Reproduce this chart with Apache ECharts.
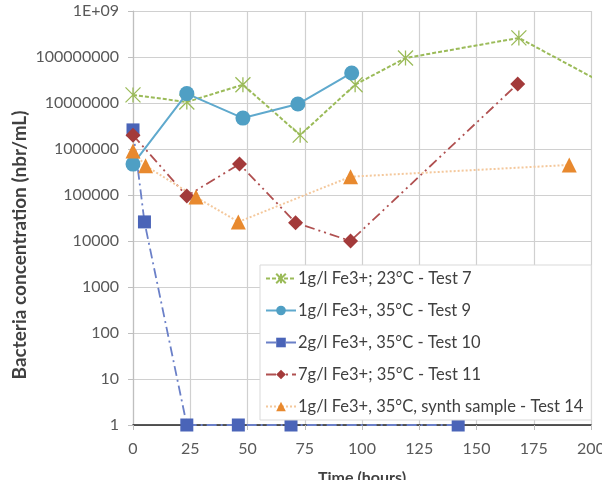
<!DOCTYPE html>
<html>
<head>
<meta charset="utf-8">
<script src="https://cdn.jsdelivr.net/npm/echarts@6/dist/echarts.min.js"></script>
<style>
  html, body { margin: 0; padding: 0; background: #fff; }
  #main { width: 602px; height: 480px; }
</style>
</head>
<body>
<div id="main"></div>
<script>
// hours / bacteria counts (nbr/mL) per test
var t7_x = [0, 23.5, 48, 73, 97, 119, 168.5, 216];
var t7_y = [15000000, 10500000, 25000000, 2000000, 25000000, 95000000, 260000000, 14000000];

var t9_x = [0, 23.5, 48, 72, 95.5];
var t9_y = [470000, 16000000, 4700000, 9500000, 45000000];

var t10_x = [0, 5, 23.5, 46, 69, 142];
var t10_y = [2600000, 26000, 1, 1, 1, 1];

var t11_x = [0, 23.5, 46.5, 71, 95, 168];
var t11_y = [2000000, 95000, 470000, 25000, 10000, 26000000];

var t14_x = [0, 5.5, 27.5, 46, 95, 190.5];
var t14_y = [900000, 430000, 90000, 26000, 250000, 450000];

var names = ['1g/l Fe3+; 23°C - Test 7', '1g/l Fe3+, 35°C - Test 9', '2g/l Fe3+, 35°C - Test 10',
             '7g/l Fe3+; 35°C - Test 11', '1g/l Fe3+, 35°C, synth sample - Test 14'];

function pairs(xs, ys) {
    var out = [];
    for (var i = 0; i < xs.length; i++) out.push([xs[i], ys[i]]);
    return out;
}

var myChart = echarts.init(document.getElementById('main'));
var font = 'Lato, "Open Sans", sans-serif';

option = {
    animation: false,
    textStyle: { fontFamily: font },
    grid: { left: 133, right: 11, top: 11, bottom: 55, containLabel: false, outerBoundsMode: 'none' },
    legend: {
        orient: 'vertical',
        left: 260,
        top: 265,
        padding: [5, 8, 5, 5],
        itemWidth: 30,
        itemHeight: 12,
        itemGap: 15,
        backgroundColor: '#fff',
        borderColor: '#d9d9d9',
        borderWidth: 1,
        textStyle: { fontFamily: font, fontSize: 16.5, color: '#404040', padding: [0, 0, 0, -3] },
        data: names
    },
    graphic: [{
        type: 'text',
        x: 20, y: 245,
        rotation: Math.PI / 2,
        style: {
            text: 'Bacteria concentration (nbr/mL)',
            font: 'bold 19px ' + font,
            fill: '#404040',
            textAlign: 'center',
            textVerticalAlign: 'middle'
        }
    }],
    xAxis: {
        type: 'value',
        min: 0, max: 200, interval: 25,
        name: 'Time (hours)',
        nameLocation: 'middle',
        nameGap: 45,
        nameTextStyle: { fontFamily: font, fontSize: 16, fontWeight: 'bold', color: '#404040' },
        axisLine: { lineStyle: { color: '#222', width: 1.5 } },
        axisTick: { show: true, length: 5, lineStyle: { color: '#bfbfbf' } },
        axisLabel: { fontFamily: font, fontSize: 16, color: '#595959', margin: 16 },
        splitLine: { lineStyle: { color: '#d0d0d0', width: 1.2 } }
    },
    yAxis: {
        type: 'log',
        logBase: 10,
        min: 1, max: 1000000000,
        interval: 1,
        axisLine: { show: true, lineStyle: { color: '#bfbfbf', width: 1.2 } },
        axisTick: { show: true, length: 5, lineStyle: { color: '#bfbfbf' } },
        axisLabel: {
            fontFamily: font, fontSize: 16, color: '#595959', margin: 14,
            formatter: function (v) {
                var r = Math.round(v);
                return r >= 1000000000 ? '1E+09' : String(r);
            }
        },
        splitLine: { lineStyle: { color: '#d0d0d0', width: 1.2 } }
    },
    series: [{
        name: names[0],
        type: 'line',
        data: pairs(t7_x, t7_y),
        symbol: 'path://M0,0L10,10M10,0L0,10M5,0L5,10',
        symbolSize: 15,
        itemStyle: { color: '#9bbb59', borderColor: '#9bbb59', borderWidth: 1.3 },
        lineStyle: { color: '#9bbb59', width: 2, type: [4, 2] }
    }, {
        name: names[1],
        type: 'line',
        data: pairs(t9_x, t9_y),
        symbol: 'circle',
        symbolSize: 15,
        itemStyle: { color: '#4f9fc4' },
        lineStyle: { color: '#5fa9cd', width: 2 }
    }, {
        name: names[2],
        type: 'line',
        data: pairs(t10_x, t10_y),
        symbol: 'rect',
        symbolSize: 13,
        itemStyle: { color: '#4a64b8' },
        lineStyle: { color: '#6b80c8', width: 1.8, type: [10, 4, 2, 4] }
    }, {
        name: names[3],
        type: 'line',
        data: pairs(t11_x, t11_y),
        symbol: 'diamond',
        symbolSize: 15,
        itemStyle: { color: '#a33a3a' },
        lineStyle: { color: '#b05050', width: 1.8, type: [10, 4, 2, 4, 2, 4] }
    }, {
        name: names[4],
        type: 'line',
        data: pairs(t14_x, t14_y),
        symbol: 'triangle',
        symbolSize: 15,
        itemStyle: { color: '#e8892e' },
        lineStyle: { color: '#f4c89c', width: 2, type: [2, 2] }
    }]
};

myChart.setOption(option);
</script>
</body>
</html>
